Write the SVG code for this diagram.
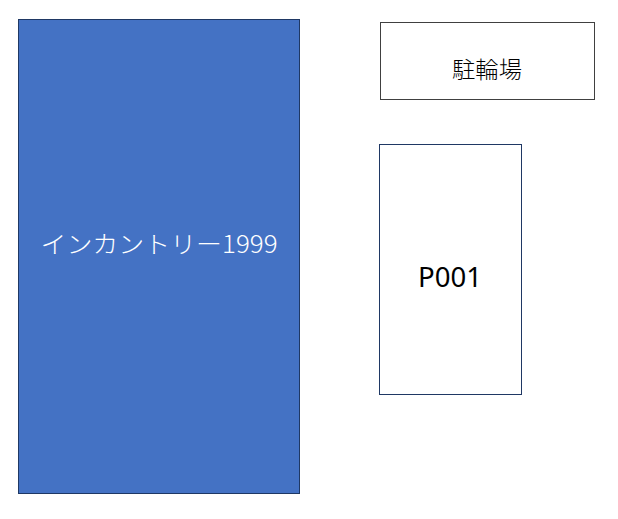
<svg xmlns="http://www.w3.org/2000/svg" width="618" height="519" viewBox="0 0 618 519">
<style>
text{font-family:"Noto Sans CJK JP","Liberation Sans",sans-serif;text-anchor:middle;dominant-baseline:central;font-weight:300}
text.latin{font-family:"Noto Sans","Liberation Sans",sans-serif;font-weight:400}
</style>
<rect width="618" height="519" fill="#ffffff"/>
<g id="node-incountry">
<rect x="18.5" y="19.5" width="281" height="474" fill="#4472C4" stroke="#1F3864" stroke-width="1"/>
<text x="159" y="242" font-size="24" fill="#ffffff" textLength="237" lengthAdjust="spacingAndGlyphs">インカントリー1999</text>
</g>
<g id="node-bike">
<rect x="380.5" y="22.5" width="214" height="77" fill="#ffffff" stroke="#404040" stroke-width="1"/>
<text x="487" y="68" font-size="23" fill="#000000" textLength="70" lengthAdjust="spacingAndGlyphs">駐輪場</text>
</g>
<g id="node-p001">
<rect x="379.5" y="144.5" width="142" height="250" fill="#ffffff" stroke="#1F3864" stroke-width="1"/>
<text class="latin" x="450" y="276" font-size="28" fill="#000000" textLength="64" lengthAdjust="spacingAndGlyphs">P001</text>
</g>
<g id="connectors"></g>
</svg>
